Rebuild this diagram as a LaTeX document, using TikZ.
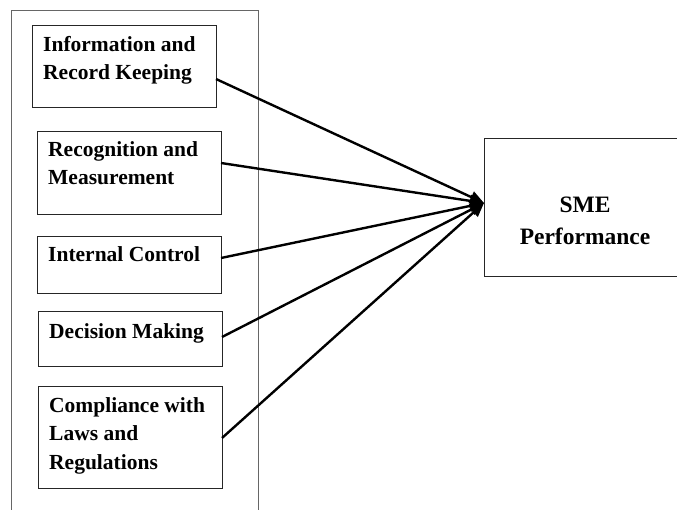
\documentclass[tikz,border=0pt]{standalone}
\usepackage{fontspec}
\setmainfont{Liberation Serif}
\usetikzlibrary{arrows.meta}
\begin{document}
\begin{tikzpicture}[x=1pt,y=-1pt,
  box/.style={draw=black!85,line width=1pt},
  outer/.style={draw=black!60,line width=1pt},
  lbl/.style={anchor=base west,inner sep=0pt,align=left,font=\bfseries\fontsize{21.5}{28.5}\selectfont},
  conn/.style={line width=2.4pt,-{Triangle[length=14pt,width=12pt]}}]
\useasboundingbox (0,0) rectangle (677,510);
\draw[outer] (11,510) -- (11,11) -- (258,11) -- (258,510);
% boxes
\node[box,minimum width=184pt,minimum height=82pt,anchor=north west,inner sep=0pt] (b1) at (32,25) {};
\node[box,minimum width=184pt,minimum height=83pt,anchor=north west,inner sep=0pt] (b2) at (37,131) {};
\node[box,minimum width=184pt,minimum height=57pt,anchor=north west,inner sep=0pt] (b3) at (37,236) {};
\node[box,minimum width=184pt,minimum height=55pt,anchor=north west,inner sep=0pt] (b4) at (38,311) {};
\node[box,minimum width=184pt,minimum height=102pt,anchor=north west,inner sep=0pt] (b5) at (38,386) {};
\node[box,minimum width=193pt,minimum height=138pt,anchor=north west,inner sep=0pt] (sme) at (484,138) {};
% texts (base = baseline of last line)
\node[lbl] (t1) at (43,80) {Information and\\Record Keeping};
\node[lbl] (t2) at (48,185) {Recognition and\\Measurement};
\node[lbl] (t3) at (48,262) {Internal Control};
\node[lbl] (t4) at (49,338) {Decision Making};
\node[lbl] (t5) at (49,469) {Compliance with\\Laws and\\Regulations};
\node[anchor=base,inner sep=0pt,align=center,font=\bfseries\fontsize{23.5}{32}\selectfont] (ts) at (585,245) {SME\\Performance};
% connectors
\coordinate (tip) at (484,203);
\coordinate (s1) at (216,79);
\coordinate (s2) at (221,163);
\coordinate (s3) at (221,258);
\coordinate (s4) at (222,337);
\coordinate (s5) at (222,438);
\foreach \s in {s1,s2,s3,s4,s5} \draw[conn] (\s) -- (tip);
\end{tikzpicture}
\end{document}
